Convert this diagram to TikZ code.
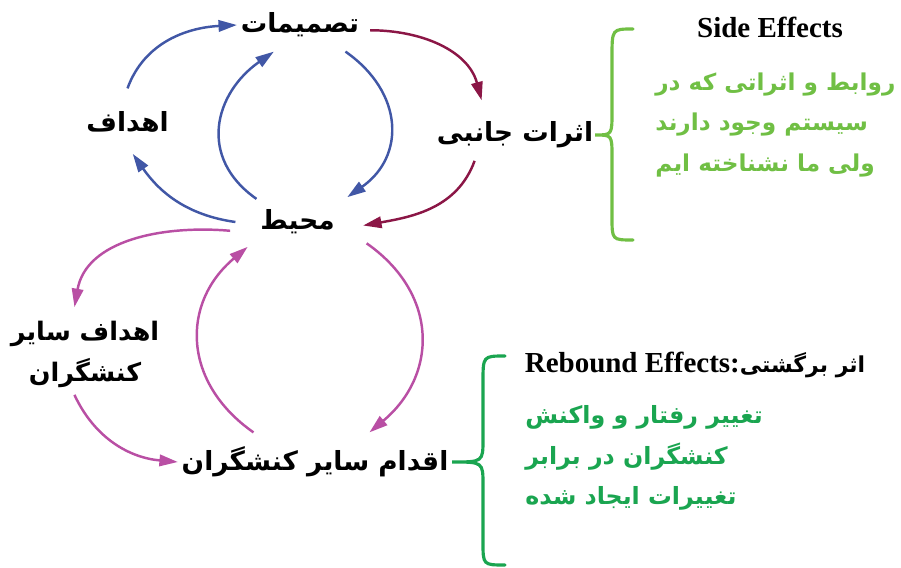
\documentclass[tikz,border=0pt]{standalone}
\usepackage{fontspec}
\usepackage{xcolor}
\usepackage{tikz}
\usetikzlibrary{positioning}
\usetikzlibrary{calc}
\usetikzlibrary{arrows.meta}
\TeXXeTstate=1
\newfontfamily\farsi[Script=Arabic]{DejaVu Sans}
\newfontfamily\serifen{Liberation Serif}
\newcommand{\fa}[1]{\beginR #1\endR}
\definecolor{fleblue}{RGB}{65,87,166}
\definecolor{flered}{RGB}{139,22,70}
\definecolor{flepink}{RGB}{185,79,164}
\definecolor{vertclair}{RGB}{112,191,68}
\definecolor{vertfonce}{RGB}{26,165,80}
\tikzset{
	lbl/.style={font=\farsi\bfseries\fontsize{15}{18}\selectfont,align=center,inner sep=2pt},
	flow/.style={line width=1.4pt,-{Triangle[length=10.5pt,width=6.5pt]}},
	accol/.style={line width=1.8pt,line cap=round},
	txtvert/.style={font=\farsi\bfseries\fontsize{13.5}{23}\selectfont,align=left,inner sep=0pt},
	titre/.style={font=\serifen\bfseries\fontsize{16.5}{18}\selectfont,inner sep=0pt}
}

\begin{document}
\begin{tikzpicture}
	\useasboundingbox (0,0) rectangle (18.02,11.34);
	
	%Noeuds
	\node[lbl] (tasm) at (6.0,10.84) {\fa{تصمیمات}};
	\node[lbl] (ahdaf) at (2.55,8.9) {\fa{اهداف}};
	\node[lbl] (jan) at (10.3,8.64) {\fa{اثرات جانبی}};
	\node[lbl] (mohit) at (5.95,6.9) {\fa{محیط}};
	\node[lbl,font=\farsi\bfseries\fontsize{14.5}{17}\selectfont] (sayer) at (1.7,4.25) {\fa{اهداف سایر}\\[6pt]\fa{کنشگران}};
	\node[lbl] (eqdam) at (6.3,2.1) {\fa{اقدام سایر کنشگران}};
	
	%Fleches bleues
	\draw[flow,fleblue] ([yshift=11pt]ahdaf.north) to[out=70,in=183] (tasm.west);
	\draw[flow,fleblue] ([xshift=-12pt]mohit.west) to[out=172,in=-55] ([shift={(3pt,-10pt)}]ahdaf.south);
	\draw[flow,fleblue] ([yshift=4pt]mohit.north west) to[out=145,in=-145,looseness=1.25] ([shift={(21pt,-6pt)}]tasm.south west);
	\draw[flow,fleblue] ([shift={(-10pt,-6pt)}]tasm.south east) to[out=-35,in=35,looseness=1.25] ([shift={(5pt,5pt)}]mohit.north east);
	
	%Fleches rouges
	\draw[flow,flered] ([shift={(4pt,-3pt)}]tasm.east) to[out=0,in=105] ([shift={(-19pt,10pt)}]jan.north);
	\draw[flow,flered] ([shift={(-23pt,-5pt)}]jan.south) to[out=-110,in=10] ([shift={(14pt,-2pt)}]mohit.east);
	
	%Fleches roses
	\draw[flow,flepink] ([shift={(-15pt,-5pt)}]mohit.west) to[out=175,in=80] ([shift={(-6pt,6pt)}]sayer.north);
	\draw[flow,flepink] ([shift={(-6pt,-2pt)}]sayer.south) to[out=-65,in=175] (eqdam.west);
	\draw[flow,flepink] ([shift={(-35pt,6pt)}]eqdam.north) to[out=145,in=-140,looseness=1.2] ([shift={(-5pt,-5pt)}]mohit.south west);
	\draw[flow,flepink] ([shift={(16pt,-3pt)}]mohit.south east) to[out=-35,in=40,looseness=1.2] ([shift={(31pt,6pt)}]eqdam.north);
	
	%Accolades
	\draw[accol,vertclair] (12.66,10.76) .. controls (12.24,10.76) .. (12.24,10.2) -- (12.24,9.1) .. controls (12.24,8.64) .. (11.9,8.64) .. controls (12.24,8.64) .. (12.24,8.2) -- (12.24,7.0) .. controls (12.24,6.54) .. (12.66,6.54);
	\draw[accol,vertfonce] (10.1,4.22) .. controls (9.66,4.22) .. (9.66,3.7) -- (9.66,2.56) .. controls (9.66,2.1) .. (9.04,2.1) .. controls (9.66,2.1) .. (9.66,1.64) -- (9.66,0.5) .. controls (9.66,0.04) .. (10.1,0.04);
	
	%Textes
	\node[titre] (side) at (15.4,10.8) {Side Effects};
	\node[txtvert,font=\farsi\bfseries\fontsize{13.2}{23}\selectfont,text=vertclair,anchor=west] (sidetxt) at (13.1,8.84) {\fa{روابط و اثراتی که در}\\\fa{سیستم وجود دارند}\\\fa{ولی ما نشناخته ایم}};
	\node[titre] (rebound) at (13.9,4.04) {Rebound Effects:{\farsi\bfseries\fontsize{12.5}{14}\selectfont\fa{اثر برگشتی}}};
	\node[txtvert,text=vertfonce,anchor=west] (rebtxt) at (10.5,2.18) {\fa{تغییر رفتار و واکنش}\\\fa{کنشگران در برابر}\\\fa{تغییرات ایجاد شده}};
	
\end{tikzpicture}
\end{document}
